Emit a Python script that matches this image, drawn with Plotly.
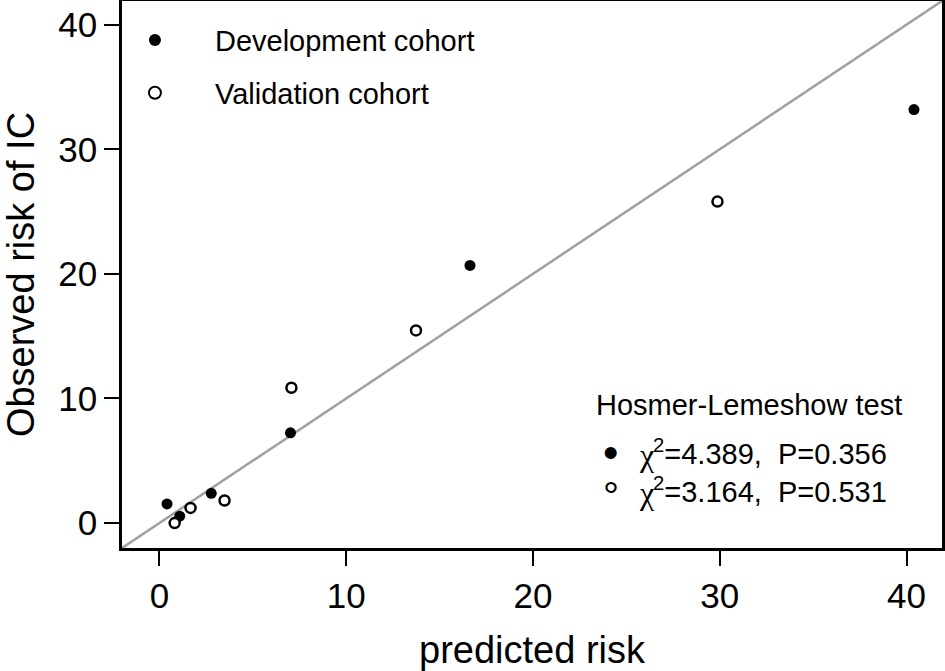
import plotly.graph_objects as go

# calibration points (percent)
dev_pred = [0.41, 1.09, 2.78, 7.02, 16.63, 40.4]
dev_obs = [1.54, 0.55, 2.39, 7.24, 20.68, 33.19]
val_pred = [0.82, 1.67, 3.49, 7.07, 13.74, 29.88]
val_obs = [0.0, 1.22, 1.81, 10.86, 15.46, 25.8]

diag = [-2, 42]
ticks = [0, 10, 20, 30, 40]
axis_range = [-2.0, 41.9]

hl_title = "Hosmer-Lemeshow test"
hl_dev = "<sup>2</sup>=4.389,  P=0.356"
hl_val = "<sup>2</sup>=3.164,  P=0.531"

FONT = "Arial, Liberation Sans, sans-serif"
SERIF = "Liberation Serif, Times New Roman, serif"

fig = go.Figure()

fig.add_trace(go.Scatter(
    x=diag, y=diag, mode='lines',
    line=dict(color='#a0a0a0', width=2.5),
    showlegend=False, hoverinfo='skip'
))

fig.add_trace(go.Scatter(
    x=dev_pred, y=dev_obs, mode='markers',
    name='Development cohort', legendgroup='dev',
    marker=dict(color='black', size=11, line=dict(width=0))
))

fig.add_trace(go.Scatter(
    x=val_pred, y=val_obs, mode='markers',
    name='Validation cohort', legendgroup='val',
    marker=dict(color='white', size=10, line=dict(color='black', width=2.5))
))


def note(x, y, text, size=29, family=FONT, anchor='left'):
    fig.add_annotation(xref='paper', yref='paper', x=x, y=y, text=text,
                       showarrow=False, xanchor=anchor, yanchor='middle',
                       font=dict(size=size, color='black', family=family))


# Hosmer-Lemeshow text block
note(0.5756, 0.2614, hl_title)
note(0.5963, 0.175, '•', size=44, anchor='center')
note(0.5963, 0.095, '°', size=40, anchor='center')
note(0.6275, 0.1705, 'χ', size=32, family=SERIF)
note(0.6275, 0.1005, 'χ', size=32, family=SERIF)
note(0.6455, 0.1755, hl_dev)
note(0.6455, 0.1055, hl_val)

axis_style = dict(
    range=axis_range,
    tickvals=ticks,
    ticks='outside', ticklen=15, tickwidth=2, tickcolor='black',
    showline=True, linecolor='black', linewidth=2.5, mirror=True,
    showgrid=False, zeroline=False, automargin=False,
    tickfont=dict(size=35, color='black'),
)

fig.update_layout(
    width=945, height=671,
    margin=dict(l=122, r=3, t=1, b=123),
    paper_bgcolor='white', plot_bgcolor='white',
    font=dict(family=FONT, color='black'),
    xaxis=dict(axis_style, title=dict(text='predicted risk', font=dict(size=38), standoff=24)),
    yaxis=dict(axis_style, title=dict(text='Observed risk of IC', font=dict(size=38), standoff=29)),
    legend=dict(
        x=-0.033, y=0.975, xanchor='left', yanchor='top',
        font=dict(size=29), itemwidth=110, itemsizing='constant',
        traceorder='grouped', tracegroupgap=12,
        bgcolor='rgba(0,0,0,0)'
    ),
)

# drop the browser's default 8px body margin so the figure fills the window
fig.write_html("out.html", config={'displayModeBar': False},
               post_script="document.body.style.margin='0px';")
